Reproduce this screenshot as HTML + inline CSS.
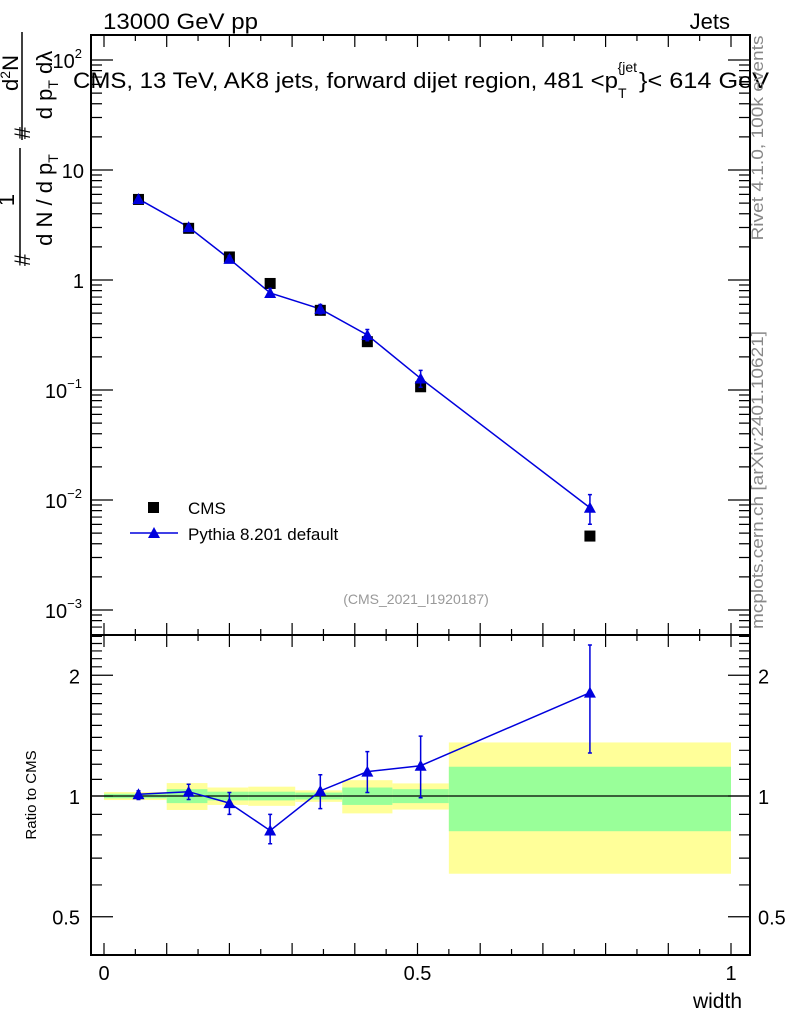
<!DOCTYPE html>
<html><head><meta charset="utf-8"><style>
html,body{margin:0;padding:0;background:#fff;}
svg{display:block;font-family:"Liberation Sans",Arial,sans-serif;}
</style></head><body>
<svg id="c" width="786" height="1024" viewBox="0 0 786 1024">
<text x="103" y="29" font-size="22" textLength="155" lengthAdjust="spacingAndGlyphs">13000 GeV pp</text>
<text x="730" y="29" font-size="22" text-anchor="end">Jets</text>
<g id="bands"></g>
<g id="marks"></g>
<rect x="91" y="35" width="659" height="600" fill="none" stroke="#000" stroke-width="2"/>
<rect x="91" y="635" width="659" height="320" fill="none" stroke="#000" stroke-width="2"/>
<text x="73" y="88" font-size="22"><tspan textLength="545" lengthAdjust="spacingAndGlyphs">CMS, 13 TeV, AK8 jets, forward dijet region, 481 &lt;p</tspan><tspan font-size="14" dy="10">T</tspan><tspan font-size="14" dy="-26" dx="-9">{jet</tspan><tspan dy="16" dx="2" textLength="130" lengthAdjust="spacingAndGlyphs">}&lt; 614 GeV</tspan></text>
<g transform="rotate(-90)" font-size="22" text-anchor="middle">
<text x="-260" y="30">#</text>
<text x="-200" y="14">1</text>
<line x1="-148" x2="-262" y1="20" y2="20" stroke="#000" stroke-width="1.5"/>
<text x="-200" y="52">d N / d p<tspan font-size="14" dy="6">T</tspan></text>
<text x="-133" y="30">#</text>
<text x="-73" y="18">d<tspan font-size="14" dy="-8">2</tspan><tspan dy="8">N</tspan></text>
<line x1="-32" x2="-140" y1="22" y2="22" stroke="#000" stroke-width="1.5"/>
<text x="-85" y="52">d p<tspan font-size="14" dy="6">T</tspan><tspan dy="-6"> dλ</tspan></text>
</g>
<text transform="translate(763,138) rotate(-90)" font-size="17" fill="#888" text-anchor="middle" textLength="205" lengthAdjust="spacingAndGlyphs">Rivet 4.1.0,  100k events</text>
<text transform="translate(763,480) rotate(-90)" font-size="17" fill="#888" text-anchor="middle" textLength="298" lengthAdjust="spacingAndGlyphs">mcplots.cern.ch [arXiv:2401.10621]</text>
<text x="416" y="604" font-size="14" fill="#999" text-anchor="middle">(CMS_2021_I1920187)</text>
<rect x="148" y="502" width="11" height="11" fill="#000"/>
<text x="188" y="514" font-size="17">CMS</text>
<line x1="130" y1="533" x2="178" y2="533" stroke="#00d" stroke-width="1.5"/>
<polygon points="154,527 148,538 160,538" fill="#00d"/>
<text x="188" y="540" font-size="17">Pythia 8.201 default</text>
<text transform="translate(36,795) rotate(-90)" font-size="15" text-anchor="middle">Ratio to CMS</text>
<text x="742" y="1008" font-size="21" text-anchor="end">width</text>
<g id="axes"></g>
</svg>
<script>
const xCenters=[0.055,0.135,0.2,0.265,0.345,0.42,0.505,0.775];
const binEdges=[0,0.1,0.165,0.23,0.305,0.38,0.46,0.55,1];
const cmsValues=[5.4,2.95,1.62,0.93,0.53,0.275,0.107,0.0047];
const pythiaRatio=[1.01,1.025,0.96,0.82,1.03,1.15,1.19,1.81];
const pythiaRatioUp=[1.03,1.07,1.02,0.90,1.13,1.29,1.41,2.38];
const pythiaRatioDn=[0.98,0.98,0.90,0.76,0.93,1.02,0.99,1.28];
const bandYellow=[0.023,0.077,0.05,0.055,0.033,0.095,0.075,0.36];
const bandGreen=[0.013,0.04,0.025,0.025,0.02,0.05,0.04,0.183];
const xTickLabels=["0","0.5","1"];
const NS="http://www.w3.org/2000/svg";
const X=v=>104+627*v;
const Y=v=>280-110*Math.log10(v);
const R=v=>796-401*Math.log10(v);
function mk(tag,attrs,parent){const e=document.createElementNS(NS,tag);for(const k in attrs)e.setAttribute(k,attrs[k]);parent.appendChild(e);return e;}
const bands=document.getElementById('bands'),marks=document.getElementById('marks'),axes=document.getElementById('axes');
for(let i=0;i<xCenters.length;i++){
 const x1=X(binEdges[i]),x2=X(binEdges[i+1]);
 let e=mk('rect',{x:x1,y:R(1+bandYellow[i]),width:x2-x1,height:R(1-bandYellow[i])-R(1+bandYellow[i]),fill:'#ffff99'},bands);
 
 
 e=mk('rect',{x:x1,y:R(1+bandGreen[i]),width:x2-x1,height:R(1-bandGreen[i])-R(1+bandGreen[i]),fill:'#99ff99'},bands);
 
 
}
let l=mk('line',{x1:91,x2:750,y1:R(1),y2:R(1),stroke:'#000','stroke-width':1.2},bands);


const py=xCenters.map((x,i)=>cmsValues[i]*pythiaRatio[i]);
let p=mk('polyline',{points:xCenters.map((x,i)=>X(x)+','+Y(py[i])).join(' '),fill:'none',stroke:'#00d','stroke-width':1.5},marks);


p=mk('polyline',{points:xCenters.map((x,i)=>X(x)+','+R(pythiaRatio[i])).join(' '),fill:'none',stroke:'#00d','stroke-width':1.5},marks);


function tri(cx,cy,name){const t=mk('polygon',{points:`${cx},${cy-6} ${cx-6},${cy+5} ${cx+6},${cy+5}`,fill:'#00d'},marks);
 
 }
function err(cx,y1,y2,name){const g=mk('path',{d:`M${cx},${y1}V${y2}M${cx-2},${y1}h4M${cx-2},${y2}h4`,stroke:'#00d','stroke-width':1.5,fill:'none'},marks);
 
 }
for(let i=0;i<xCenters.length;i++){
 const cx=X(xCenters[i]);
 const s=mk('rect',{x:cx-5.5,y:Y(cmsValues[i])-5.5,width:11,height:11,fill:'#000'},marks);
 
 
 const f=cmsValues[i];
 err(cx,Y(f*pythiaRatioUp[i]),Y(f*pythiaRatioDn[i]),'pythia-error');
 tri(cx,Y(py[i]),'pythia-point');
 err(cx,R(pythiaRatioUp[i]),R(pythiaRatioDn[i]),'pythia-ratio-error');
 tri(cx,R(pythiaRatio[i]),'pythia-ratio-point');
}
function tk(d){const e=mk('path',{d:d,stroke:'#000','stroke-width':1.2,fill:'none'},axes);
 
 }
let d='';
for(let k=0;k<=20;k++){const x=X(k*0.05);const L=k%2?6:12;
 d+=`M${x},635v${-L}M${x},35v${L}M${x},955v${-L}M${x},635v${L}`;}
tk(d);
d='';
for(let e=-4;e<=2;e++){for(let m=1;m<10;m++){const v=m*Math.pow(10,e);const y=Y(v);if(y<36||y>634)continue;const L=m==1?22:11;d+=`M91,${y}h${L}M750,${y}h${-L}`;}}
tk(d);
d='';
for(let m=4;m<=25;m++){const v=m/10;const y=R(v);if(y<636||y>954)continue;const L=(v==0.5||v==1||v==2)?22:11;d+=`M91,${y}h${L}M750,${y}h${-L}`;}
tk(d);
function tx(x,y,s,anchor,name,size){const t=mk('text',{x:x,y:y,'font-size':size||20,'text-anchor':anchor},axes);t.textContent=s;
 
 return t;}
[2,-1,-2,-3].forEach(e=>{const t=tx(82,Y(Math.pow(10,e))+8,'','end','y-tick-label');t.innerHTML=`10<tspan font-size="13" dy="-10">${e<0?'−'+(-e):e}</tspan>`;});
tx(84,Y(10)+8,'10','end','y-tick-label');
tx(84,Y(1)+8,'1','end','y-tick-label');
[[2,'2'],[1,'1'],[0.5,'0.5']].forEach(([v,s])=>{tx(80,R(v)+8,s,'end','ratio-y-tick-label');tx(758,R(v)+8,s,'start','ratio-y-tick-label-right');});
[0,0.5,1].forEach((v,i)=>tx(X(v),980,xTickLabels[i],'middle','x-tick-label'));
</script>
</body></html>
